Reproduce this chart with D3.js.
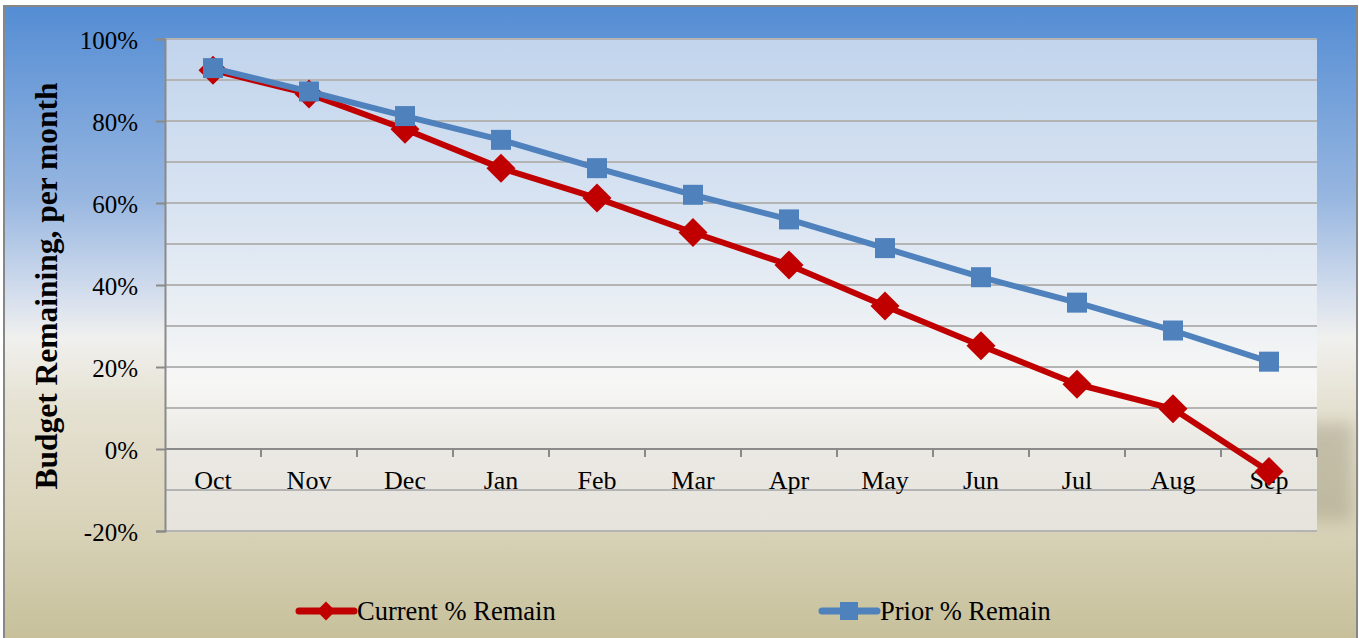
<!DOCTYPE html>
<html>
<head>
<meta charset="utf-8">
<script src="https://cdnjs.cloudflare.com/ajax/libs/d3/7.8.5/d3.min.js"></script>
<style>
  body { margin: 0; background: #fff; }
  svg { display: block; }
  text { font-family: "Liberation Serif", "Times New Roman", serif; fill: #000; }
</style>
</head>
<body>
<div id="chart"></div>
<script>
// values
var months = ["Oct","Nov","Dec","Jan","Feb","Mar","Apr","May","Jun","Jul","Aug","Sep"];
var currentRemain = [0.924, 0.866, 0.78, 0.685, 0.612, 0.528, 0.449, 0.349, 0.252, 0.158, 0.098, -0.055];
var priorRemain = [0.929, 0.872, 0.812, 0.754, 0.685, 0.62, 0.56, 0.49, 0.419, 0.357, 0.289, 0.213];
var yTicks = [-0.2, 0, 0.2, 0.4, 0.6, 0.8, 1.0];
var yGrid = [-0.2, -0.1, 0, 0.1, 0.2, 0.3, 0.4, 0.5, 0.6, 0.7, 0.8, 0.9, 1.0];
var seriesNames = ["Current % Remain", "Prior % Remain"];

var width = 1359,
    height = 638,
    margin = {top: 39, right: 42, bottom: 107, left: 165},
    innerWidth = width - margin.left - margin.right,
    innerHeight = height - margin.top - margin.bottom;

var svg = d3.select("#chart").append("svg")
    .attr("width", width)
    .attr("height", height);

var defs = svg.append("defs");

// outer chart background, blue sky to sand
var bg = defs.append("linearGradient").attr("id", "bgGrad")
    .attr("x1", 0).attr("y1", 0).attr("x2", 0).attr("y2", 1);
[[0, "#548dd4"], [0.3, "#97b6e0"], [0.45, "#d3dded"], [0.52, "#f0f0ee"],
 [0.62, "#e6e2d3"], [0.8, "#dad4bb"], [1, "#c6bf99"]].forEach(function(s) {
  bg.append("stop").attr("offset", s[0]).attr("stop-color", s[1]);
});

var pg = defs.append("linearGradient").attr("id", "plotGrad")
    .attr("x1", 0).attr("y1", 0).attr("x2", 0).attr("y2", 1);
[[0, "#c1d4ec"], [0.35, "#d9e4f2"], [0.7, "#f7f7f5"], [0.82, "#ebe9e3"], [1, "#e5e3dc"]].forEach(function(s) {
  pg.append("stop").attr("offset", s[0]).attr("stop-color", s[1]);
});

defs.append("filter").attr("id", "blur")
    .attr("x", "-50%").attr("y", "-50%").attr("width", "200%").attr("height", "200%")
  .append("feGaussianBlur").attr("stdDeviation", 8);

svg.append("rect")
    .attr("x", 4).attr("y", 6)
    .attr("width", width - 6).attr("height", height)
    .attr("fill", "url(#bgGrad)")
    .attr("stroke", "#878787")
    .attr("stroke-width", 2);

// darker band on the right of the plot area
svg.append("rect")
    .attr("x", margin.left + innerWidth - 20)
    .attr("y", margin.top + innerHeight * 0.78)
    .attr("width", 56)
    .attr("height", innerHeight * 0.2)
    .attr("fill", "#9e987f")
    .attr("opacity", 0.45)
    .attr("filter", "url(#blur)");

var g = svg.append("g")
    .attr("transform", "translate(" + margin.left + "," + margin.top + ")");

var xScale = d3.scaleBand().domain(months).range([0, innerWidth]);
var yScale = d3.scaleLinear().domain([-0.2, 1.0]).range([innerHeight, 0]);
var xCenter = function(m) { return xScale(m) + xScale.bandwidth() / 2; };

g.append("rect")
    .attr("width", innerWidth)
    .attr("height", innerHeight)
    .attr("fill", "url(#plotGrad)");

// gridlines every 10%
g.selectAll(".grid").data(yGrid).enter().append("line")
    .attr("class", "grid")
    .attr("x1", 0).attr("x2", innerWidth)
    .attr("y1", function(d) { return yScale(d); })
    .attr("y2", function(d) { return yScale(d); })
    .attr("stroke", "#b4b4b4")
    .attr("stroke-width", 2);

// y axis, hyphen minus like the original
var pct = function(d) { return Math.round(d * 100) + "%"; };
var yAxis = g.append("g")
    .call(d3.axisLeft(yScale).tickValues(yTicks).tickSize(9).tickPadding(18).tickFormat(pct));
yAxis.select(".domain").attr("stroke", "#8a8a8a").attr("stroke-width", 2);
yAxis.selectAll(".tick line").attr("stroke", "#8a8a8a").attr("stroke-width", 2);
yAxis.selectAll(".tick text")
    .attr("font-family", "Liberation Serif, serif")
    .attr("font-size", 25)
    .attr("fill", "#000")
    .attr("dy", "0.36em");

// x axis at 0%, ticks between categories
var xAxisG = g.append("g").attr("transform", "translate(0," + yScale(0) + ")");
xAxisG.append("line")
    .attr("x1", 0).attr("x2", innerWidth)
    .attr("stroke", "#8a8a8a").attr("stroke-width", 2);
xAxisG.selectAll(".xtick").data(months.slice(1).concat(["end"])).enter().append("line")
    .attr("class", "xtick")
    .attr("x1", function(d, i) { return xScale.step() * (i + 1); })
    .attr("x2", function(d, i) { return xScale.step() * (i + 1); })
    .attr("y1", 0).attr("y2", 8)
    .attr("stroke", "#8a8a8a").attr("stroke-width", 2);
xAxisG.selectAll(".xlabel").data(months).enter().append("text")
    .attr("class", "xlabel")
    .attr("x", xCenter)
    .attr("y", 40)
    .attr("text-anchor", "middle")
    .attr("font-size", 26)
    .text(function(d) { return d; });

// y title
svg.append("text")
    .attr("transform", "translate(57," + (margin.top + innerHeight / 2 + 1) + ") rotate(-90)")
    .attr("text-anchor", "middle")
    .attr("font-size", 31.5)
    .attr("font-weight", "bold")
    .text("Budget Remaining, per month");

var red = "#c00000", blue = "#4f81bd";

var line = d3.line()
    .x(function(d, i) { return xCenter(months[i]); })
    .y(function(d) { return yScale(d); });

var diamond = function(s) { return "M0," + (-s) + "L" + s + ",0L0," + s + "L" + (-s) + ",0Z"; };

// current series
g.append("path").datum(currentRemain)
    .attr("d", line)
    .attr("fill", "none")
    .attr("stroke", red)
    .attr("stroke-width", 6)
    .attr("stroke-linejoin", "round");
g.selectAll(".cur").data(currentRemain).enter().append("path")
    .attr("class", "cur")
    .attr("transform", function(d, i) { return "translate(" + xCenter(months[i]) + "," + yScale(d) + ")"; })
    .attr("d", diamond(14.5))
    .attr("fill", red);

// prior series
g.append("path").datum(priorRemain)
    .attr("d", line)
    .attr("fill", "none")
    .attr("stroke", blue)
    .attr("stroke-width", 6)
    .attr("stroke-linejoin", "round");
g.selectAll(".pri").data(priorRemain).enter().append("rect")
    .attr("class", "pri")
    .attr("x", function(d, i) { return xCenter(months[i]) - 10; })
    .attr("y", function(d) { return yScale(d) - 10; })
    .attr("width", 20).attr("height", 20)
    .attr("fill", blue);

// legend
var legend = svg.append("g").attr("transform", "translate(0,611)");
var items = legend.selectAll(".item").data(seriesNames).enter().append("g")
    .attr("class", "item")
    .attr("transform", function(d, i) { return "translate(" + (299 + i * 523) + ",0)"; });
items.append("line")
    .attr("x1", 0).attr("x2", 55)
    .attr("stroke", function(d, i) { return i ? blue : red; })
    .attr("stroke-width", 7)
    .attr("stroke-linecap", "round");
items.append("path")
    .attr("transform", "translate(27,0)")
    .attr("d", function(d, i) { return i ? "M-9,-9H9V9H-9Z" : diamond(9.5); })
    .attr("fill", function(d, i) { return i ? blue : red; });
items.append("text")
    .attr("x", 58)
    .attr("dy", "0.33em")
    .attr("font-size", 26.5)
    .text(function(d) { return d; });
</script>
</body>
</html>
